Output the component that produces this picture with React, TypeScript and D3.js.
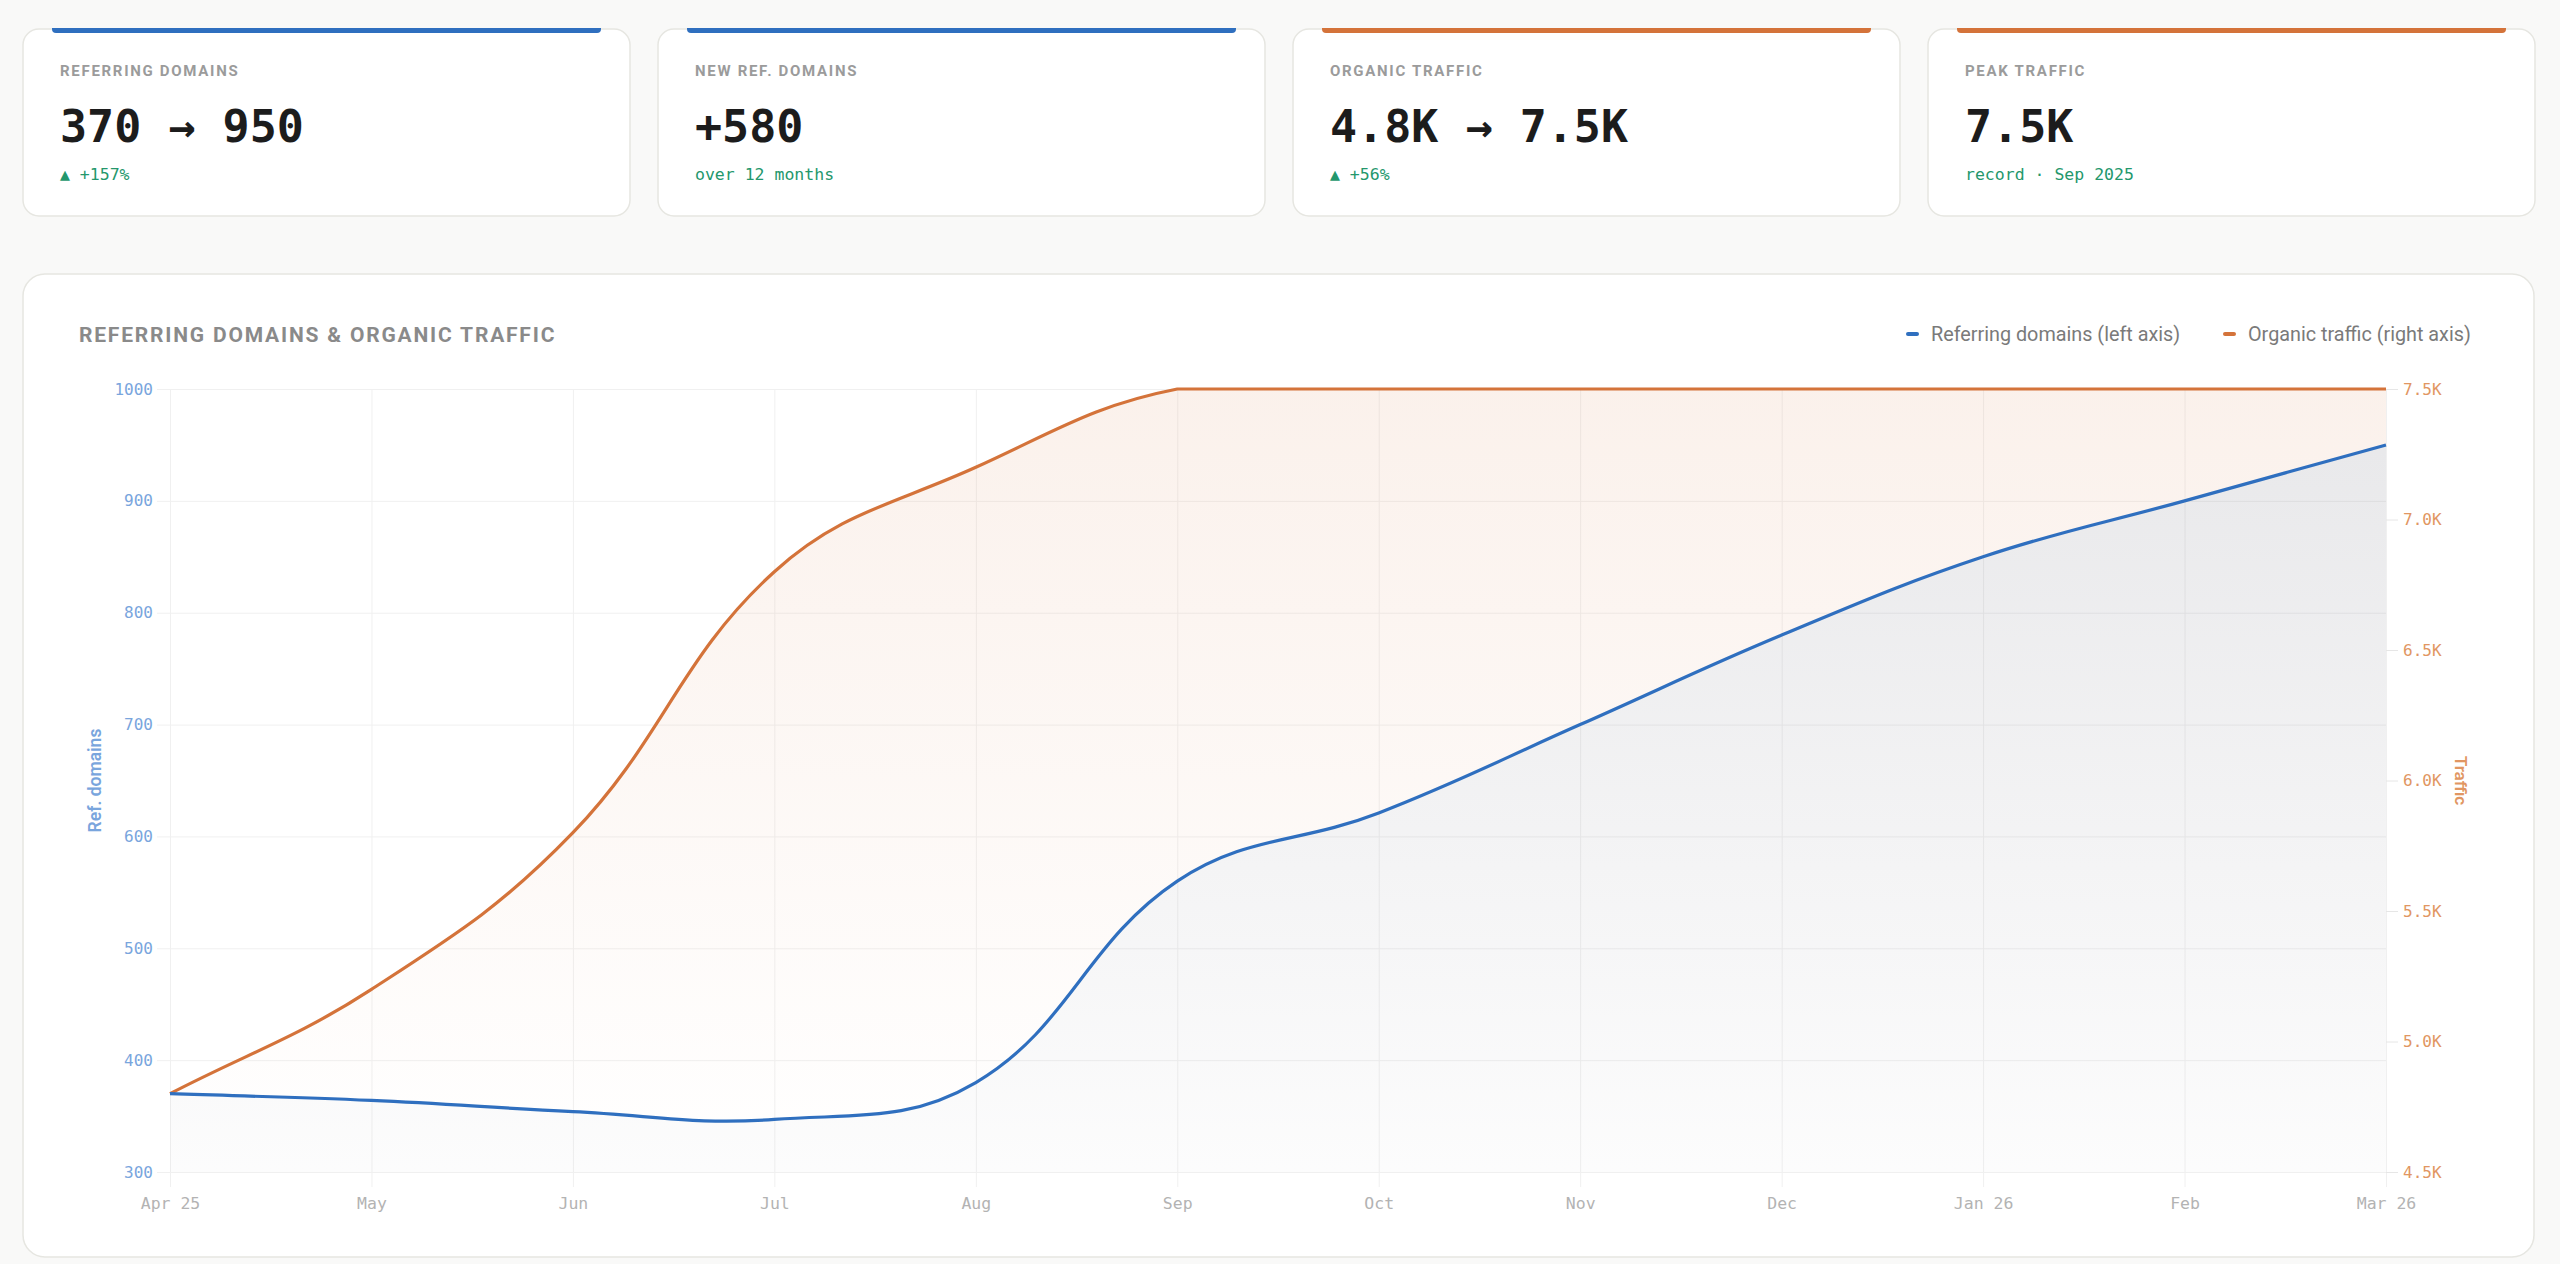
import React, { useEffect, useRef } from 'react';
import * as d3 from 'd3';

const months = ["Apr 25", "May", "Jun", "Jul", "Aug", "Sep", "Oct", "Nov", "Dec", "Jan 26", "Feb", "Mar 26"];
const refDomains = [370, 364, 354, 347, 380, 560, 621, 700, 780, 850, 900, 950];
const traffic = [4800, 5200, 5800, 6800, 7200, 7500, 7500, 7500, 7500, 7500, 7500, 7500];
const leftTicks = [300, 400, 500, 600, 700, 800, 900, 1000];
const rightTicks = [4500, 5000, 5500, 6000, 6500, 7000, 7500];

const statLabels = ["REFERRING DOMAINS", "NEW REF. DOMAINS", "ORGANIC TRAFFIC", "PEAK TRAFFIC"];
const statValues = ["370 → 950", "+580", "4.8K → 7.5K", "7.5K"];
const statNotes = ["▲ +157%", "over 12 months", "▲ +56%", "record · Sep 2025"];
const statAccent = ["blue", "blue", "orange", "orange"];

const W = 2560;
const H = 1264;
const BLUE = "#2f6fbf";
const ORANGE = "#d4733a";
const GREEN = "#24976c";
const SANS = "Roboto, Inter, 'Noto Sans', sans-serif";
const MONO = "'DejaVu Sans Mono', 'Liberation Mono', monospace";

type Pt = [number, number];
type Box = { left: number; right: number; top: number; bottom: number };

// tension spline, control points kept inside the plot box (no overshoot past the axis max)
function controls(pts: Pt[], t: number, box: Box) {
  const cap = (v: number, a: number, b: number) => Math.max(Math.min(v, b), a);
  return pts.map((p, i) => {
    const prev = pts[i - 1] || p;
    const next = pts[i + 1] || p;
    const d01 = Math.hypot(p[0] - prev[0], p[1] - prev[1]);
    const d12 = Math.hypot(next[0] - p[0], next[1] - p[1]);
    let s01 = d01 / (d01 + d12);
    let s12 = d12 / (d01 + d12);
    if (isNaN(s01)) s01 = 0;
    if (isNaN(s12)) s12 = 0;
    const fa = t * s01;
    const fb = t * s12;
    const dx = next[0] - prev[0];
    const dy = next[1] - prev[1];
    return {
      cin: [cap(p[0] - fa * dx, box.left, box.right), cap(p[1] - fa * dy, box.top, box.bottom)] as Pt,
      cout: [cap(p[0] + fb * dx, box.left, box.right), cap(p[1] + fb * dy, box.top, box.bottom)] as Pt,
    };
  });
}

function forward(ctx: d3.Path, pts: Pt[], t: number, box: Box) {
  const c = controls(pts, t, box);
  ctx.moveTo(pts[0][0], pts[0][1]);
  for (let i = 1; i < pts.length; i++) {
    ctx.bezierCurveTo(c[i - 1].cout[0], c[i - 1].cout[1], c[i].cin[0], c[i].cin[1], pts[i][0], pts[i][1]);
  }
}

function backward(ctx: d3.Path, pts: Pt[], t: number, box: Box) {
  const c = controls(pts, t, box);
  const n = pts.length;
  ctx.lineTo(pts[n - 1][0], pts[n - 1][1]);
  for (let i = n - 2; i >= 0; i--) {
    ctx.bezierCurveTo(c[i + 1].cin[0], c[i + 1].cin[1], c[i].cout[0], c[i].cout[1], pts[i][0], pts[i][1]);
  }
}

export default function App() {
  const svgRef = useRef<SVGSVGElement>(null);

  useEffect(() => {
    document.body.style.margin = "0";
    document.body.style.background = "#f9f9f8";
    if (!svgRef.current) return;
    const svg = d3.select(svgRef.current);
    svg.selectAll("*").remove();

    svg.append("rect").attr("width", W).attr("height", H).attr("fill", "#f9f9f8");

    // ---- stat cards
    const cardW = 607;
    const cardGap = 28;
    statLabels.forEach((label, i) => {
      const cx = 23 + i * (cardW + cardGap);
      const g = svg.append("g").attr("transform", `translate(${cx},29)`);
      g.append("rect")
        .attr("width", cardW).attr("height", 187).attr("rx", 16)
        .attr("fill", "#fff").attr("stroke", "#e6e6e1").attr("stroke-width", 1.5);
      const ax0 = 29, ax1 = cardW - 29, r = 4;
      g.append("path")
        .attr("d", `M${ax0},-1 H${ax1} V0 Q${ax1},4 ${ax1 - r},4 H${ax0 + r} Q${ax0},4 ${ax0},0 Z`)
        .attr("fill", statAccent[i] === "blue" ? BLUE : ORANGE);
      g.append("text").text(label)
        .attr("x", 37).attr("y", 47)
        .attr("font-family", SANS).attr("font-weight", 700).attr("font-size", 15)
        .attr("letter-spacing", 1.7).attr("fill", "#9b9b9b");
      g.append("text").text(statValues[i])
        .attr("x", 37).attr("y", 113)
        .attr("font-family", MONO).attr("font-weight", 700).attr("font-size", 45)
        .attr("fill", "#1c1c1c");
      g.append("text").text(statNotes[i])
        .attr("x", 37).attr("y", 151)
        .attr("font-family", MONO).attr("font-size", 16.5)
        .attr("fill", GREEN);
    });

    // ---- chart panel
    svg.append("rect")
      .attr("x", 23).attr("y", 274).attr("width", 2511).attr("height", 983).attr("rx", 22)
      .attr("fill", "#fff").attr("stroke", "#e6e6e1").attr("stroke-width", 1.5);

    svg.append("text").text("REFERRING DOMAINS & ORGANIC TRAFFIC")
      .attr("x", 79).attr("y", 342)
      .attr("font-family", SANS).attr("font-weight", 700).attr("font-size", 21)
      .attr("letter-spacing", 1.8).attr("fill", "#8a8a8a");

    const legend = [
      { label: "Referring domains (left axis)", color: BLUE, x: 1906 },
      { label: "Organic traffic (right axis)", color: ORANGE, x: 2223 },
    ];
    legend.forEach(l => {
      svg.append("rect").attr("x", l.x).attr("y", 332).attr("width", 13).attr("height", 4).attr("rx", 2).attr("fill", l.color);
      svg.append("text").text(l.label)
        .attr("x", l.x + 25).attr("y", 341)
        .attr("font-family", SANS).attr("font-size", 19.8).attr("fill", "#7a7a7a");
    });

    const box: Box = { left: 170, right: 2386, top: 389, bottom: 1172 };
    const x = d3.scalePoint<string>().domain(months).range([box.left, box.right]);
    const yL = d3.scaleLinear().domain([300, 1000]).range([box.bottom, box.top]);
    const yR = d3.scaleLinear().domain([4500, 7500]).range([box.bottom, box.top]);

    const defs = svg.append("defs");
    const og = defs.append("linearGradient").attr("id", "orangeFill")
      .attr("gradientUnits", "userSpaceOnUse").attr("x1", 0).attr("x2", 0).attr("y1", box.top).attr("y2", box.bottom);
    og.append("stop").attr("offset", 0).attr("stop-color", ORANGE).attr("stop-opacity", 0.1);
    og.append("stop").attr("offset", 1).attr("stop-color", ORANGE).attr("stop-opacity", 0.0);
    const gg = defs.append("linearGradient").attr("id", "greyFill")
      .attr("gradientUnits", "userSpaceOnUse").attr("x1", 0).attr("x2", 0).attr("y1", box.top).attr("y2", box.bottom);
    gg.append("stop").attr("offset", 0).attr("stop-color", "#3a3a4c").attr("stop-opacity", 0.12);
    gg.append("stop").attr("offset", 1).attr("stop-color", "#3a3a4c").attr("stop-opacity", 0.015);

    // grid + axes
    const gridColor = "#f0f0f0";
    const xAxis = svg.append("g")
      .attr("transform", `translate(0,${box.bottom + 15})`)
      .call(d3.axisBottom(x).tickSize(-(box.bottom + 15 - box.top)).tickPadding(10));
    xAxis.select(".domain").remove();
    xAxis.selectAll("line").attr("stroke", gridColor);
    xAxis.selectAll("text").attr("fill", "#b3b3b3").attr("font-family", MONO).attr("font-size", 16.5);

    const yAxisL = svg.append("g")
      .attr("transform", `translate(${box.left - 13},0)`)
      .call(d3.axisLeft(yL).tickValues(leftTicks).tickFormat(d3.format("d"))
        .tickSize(-(box.right - box.left + 13)).tickPadding(4));
    yAxisL.select(".domain").remove();
    yAxisL.selectAll("line").attr("stroke", gridColor);
    yAxisL.selectAll("text").attr("fill", "#79a5dd").attr("font-family", MONO).attr("font-size", 16);

    const yAxisR = svg.append("g")
      .attr("transform", `translate(${box.right},0)`)
      .call(d3.axisRight(yR).tickValues(rightTicks).tickSize(12).tickPadding(5)
        .tickFormat(d => `${d3.format(".1f")((d as number) / 1000)}K`));
    yAxisR.select(".domain").remove();
    yAxisR.selectAll("line").attr("stroke", "#e6e6e6");
    yAxisR.selectAll("text").attr("fill", "#e19662").attr("font-family", MONO).attr("font-size", 16);

    svg.append("text").text("Ref. domains")
      .attr("transform", `translate(95,${(box.top + box.bottom) / 2}) rotate(-90)`)
      .attr("text-anchor", "middle").attr("dominant-baseline", "central")
      .attr("font-family", SANS).attr("font-weight", 600).attr("font-size", 17.5).attr("fill", "#79a5dd");
    svg.append("text").text("Traffic")
      .attr("transform", `translate(2461,${(box.top + box.bottom) / 2}) rotate(90)`)
      .attr("text-anchor", "middle").attr("dominant-baseline", "central")
      .attr("font-family", SANS).attr("font-weight", 600).attr("font-size", 17).attr("fill", "#e19662");

    // series
    const tension = 0.4;
    const refPts: Pt[] = months.map((m, i) => [x(m)!, yL(refDomains[i])]);
    const trafPts: Pt[] = months.map((m, i) => [x(m)!, yR(traffic[i])]);

    const orangeArea = d3.path();
    forward(orangeArea, trafPts, tension, box);
    backward(orangeArea, refPts, tension, box);
    orangeArea.closePath();
    svg.append("path").attr("d", orangeArea.toString()).attr("fill", "url(#orangeFill)");

    const greyArea = d3.path();
    forward(greyArea, refPts, tension, box);
    greyArea.lineTo(box.right, box.bottom);
    greyArea.lineTo(box.left, box.bottom);
    greyArea.closePath();
    svg.append("path").attr("d", greyArea.toString()).attr("fill", "url(#greyFill)");

    const trafLine = d3.path();
    forward(trafLine, trafPts, tension, box);
    svg.append("path").attr("d", trafLine.toString())
      .attr("fill", "none").attr("stroke", ORANGE).attr("stroke-width", 3.2);

    const refLine = d3.path();
    forward(refLine, refPts, tension, box);
    svg.append("path").attr("d", refLine.toString())
      .attr("fill", "none").attr("stroke", BLUE).attr("stroke-width", 3.2);
  }, []);

  return <svg ref={svgRef} width={W} height={H} style={{ display: "block" }} />;
}
